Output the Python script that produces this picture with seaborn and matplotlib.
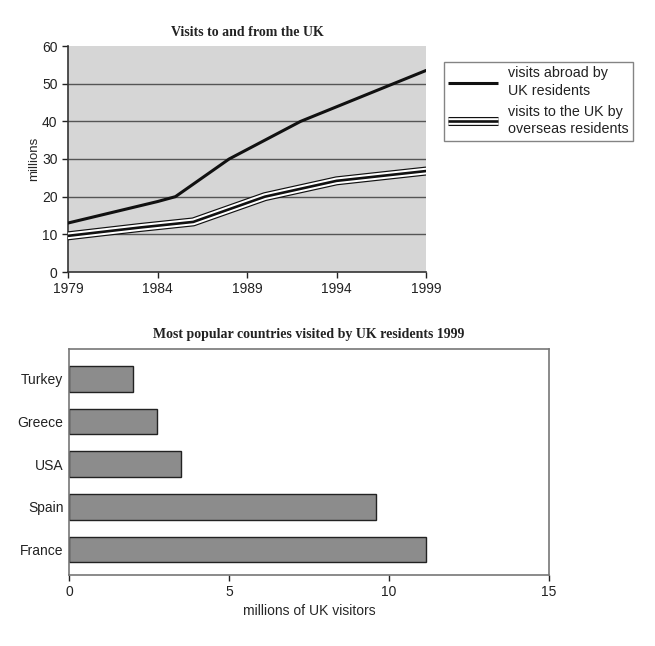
import matplotlib
matplotlib.use('Agg')
import matplotlib.pyplot as plt
import seaborn as sns
import pandas as pd

# datos
years_abroad = [1979, 1984, 1985, 1988, 1992, 1999]
visits_abroad = [13, 18.7, 20, 30, 40, 53.5]
years_overseas = [1979, 1983, 1986, 1990, 1994, 1999]
visits_overseas = [9.6, 11.8, 13.3, 20, 24.2, 26.8]

countries = ['Turkey', 'Greece', 'USA', 'Spain', 'France']
uk_visitors = [2, 2.75, 3.5, 9.6, 11.15]

sns.set_style('ticks')
plt.rcParams['font.family'] = ['Liberation Sans', 'DejaVu Sans']
plt.rcParams['text.color'] = '#222222'
plt.rcParams['xtick.color'] = '#222222'
plt.rcParams['ytick.color'] = '#222222'

df_abroad = pd.DataFrame({'year': years_abroad, 'millions': visits_abroad})
df_overseas = pd.DataFrame({'year': years_overseas, 'millions': visits_overseas})
df_bars = pd.DataFrame({'country': countries, 'visitors': uk_visitors})

fig = plt.figure(figsize=(6.55, 6.46), dpi=100)

# 1. Grafico de lineas
ax1 = fig.add_axes([68 / 655, 1 - 272 / 646, 358 / 655, 226 / 646])
ax1.set_facecolor('#d6d6d6')
for v in [10, 20, 30, 40, 50]:
    ax1.axhline(v, color='#555555', lw=1.0, zorder=1)

sns.lineplot(data=df_overseas, x='year', y='millions', color='#111111', lw=6.5, ax=ax1, zorder=3)
sns.lineplot(data=df_overseas, x='year', y='millions', color='white', lw=4.8, ax=ax1, zorder=4)
sns.lineplot(data=df_overseas, x='year', y='millions', color='#111111', lw=1.9, ax=ax1, zorder=5)
sns.lineplot(data=df_abroad, x='year', y='millions', color='#111111', lw=2.2, ax=ax1, zorder=6)

ax1.set_xlim(1979, 1999)
ax1.set_ylim(0, 60)
ax1.set_xticks([1979, 1984, 1989, 1994, 1999])
ax1.set_yticks(range(0, 61, 10))
ax1.tick_params(labelsize=10, length=4, width=1)
ax1.set_xlabel('')
ax1.set_ylabel('millions', fontsize=9.5, labelpad=1)
for s in ['top', 'right']:
    ax1.spines[s].set_visible(False)
for s in ['left', 'bottom']:
    ax1.spines[s].set_color('#333333')
    ax1.spines[s].set_linewidth(1.2)
ax1.set_title('Visits to and from the UK', fontsize=10, fontweight='bold',
              family='Liberation Serif', pad=7)

# leyenda
h1 = plt.Line2D([], [], color='#111111', lw=2.2, solid_capstyle='butt')
h2a = plt.Line2D([], [], color='#111111', lw=6.5, solid_capstyle='butt')
h2b = plt.Line2D([], [], color='white', lw=4.8, solid_capstyle='butt')
h2c = plt.Line2D([], [], color='#111111', lw=1.9, solid_capstyle='butt')
leg = fig.legend([h1, (h2a, h2b, h2c)],
                 ['visits abroad by\nUK residents', 'visits to the UK by\noverseas residents'],
                 loc='upper left', bbox_to_anchor=(444 / 655, 1 - 62 / 646),
                 fontsize=10.3, handlelength=3.5, handletextpad=0.7, labelspacing=0.45,
                 borderpad=0.3, borderaxespad=0, frameon=True, fancybox=False,
                 edgecolor='#666666')
leg.get_frame().set_linewidth(1.0)
for t in leg.get_texts():
    t.set_linespacing(1.35)

# 2. Grafico de barras
ax2 = fig.add_axes([69 / 655, 1 - 575 / 646, 480 / 655, 226 / 646])
sns.barplot(data=df_bars, x='visitors', y='country', orient='h', color='#8c8c8c',
            edgecolor='#222222', linewidth=1.0, width=0.6, saturation=1, ax=ax2)
ax2.set_xlim(0, 15)
ax2.set_ylim(4.6, -0.7)
ax2.set_xticks([0, 5, 10, 15])
ax2.tick_params(axis='x', labelsize=10, length=4, width=1)
ax2.tick_params(axis='y', labelsize=10, length=0, pad=4)
ax2.set_ylabel('')
ax2.set_xlabel('millions of UK visitors', fontsize=10, labelpad=3)
for s in ax2.spines.values():
    s.set_visible(True)
    s.set_color('#777777')
    s.set_linewidth(1.2)
ax2.set_title('Most popular countries visited by UK residents 1999', fontsize=10,
              fontweight='bold', family='Liberation Serif', pad=8)

fig.savefig('out.png', dpi=100)
